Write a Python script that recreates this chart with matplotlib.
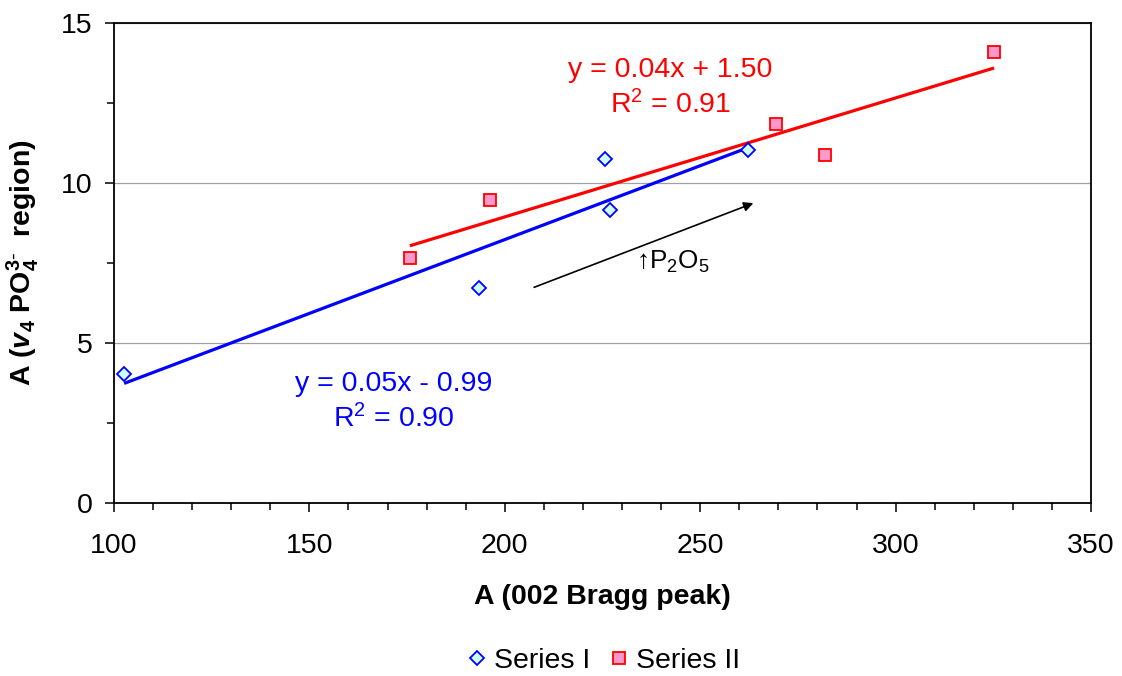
import numpy as np
import matplotlib
matplotlib.use("Agg")
import matplotlib.pyplot as plt
from matplotlib.ticker import MultipleLocator

plt.rcParams['font.family'] = ['Liberation Sans', 'DejaVu Sans']
plt.rcParams['mathtext.fontset'] = 'custom'
plt.rcParams['mathtext.rm'] = 'Liberation Sans'
plt.rcParams['mathtext.it'] = 'Liberation Sans:italic'
plt.rcParams['mathtext.bf'] = 'Liberation Sans:bold'
plt.rcParams['mathtext.bfit'] = 'Liberation Sans:bold:italic'

# Data
series1_x = [102.6, 193.5, 225.6, 227.0, 262.3]
series1_y = [4.03, 6.71, 10.74, 9.16, 11.03]
series2_x = [175.7, 196.2, 269.4, 282.0, 325.2]
series2_y = [7.66, 9.47, 11.84, 10.88, 14.09]
series_names = ["Series I", "Series II"]
eq1 = "y = 0.05x - 0.99\nR$^2$ = 0.90"
eq2 = "y = 0.04x + 1.50\nR$^2$ = 0.91"
arrow_start = (207.5, 6.74)
arrow_end = (263.6, 9.37)
x_ticks = [100, 150, 200, 250, 300, 350]
y_ticks = [0, 5, 10, 15]

FS = 20.5

fig = plt.figure(figsize=(11.22, 6.76), dpi=100)
ax = fig.add_axes([0.1016, 0.2559, 0.8708, 0.7101])

blue = '#0000FF'
red = '#FF0000'

# trendlines (least squares)
for xs, ys, c in [(series1_x, series1_y, blue), (series2_x, series2_y, red)]:
    xs_a = np.array(xs); ys_a = np.array(ys)
    m, b = np.polyfit(xs_a, ys_a, 1)
    xl = np.array([xs_a.min(), xs_a.max()])
    ax.plot(xl, m * xl + b, color=c, lw=2.3, zorder=2, solid_capstyle='butt')

ax.plot(series1_x, series1_y, ls='none', marker='D', ms=7, mfc='#CCFFFF',
        mec=blue, mew=1.3, label=series_names[0], zorder=3)
ax.plot(series2_x, series2_y, ls='none', marker='s', ms=8, mfc='#FF99CC',
        mec=red, mew=1.3, label=series_names[1], zorder=3)

ax.annotate('', xy=arrow_end, xytext=arrow_start,
            arrowprops=dict(arrowstyle='-|>', color='black', lw=1.2,
                            mutation_scale=14, shrinkA=0, shrinkB=0))
ax.text(233.6, 7.53, '\u2191P$_2$O$_5$', fontsize=18.8, va='center', ha='left')

ax.text(171.6, 3.16, eq1, color=blue, fontsize=FS, ha='center', va='center',
        multialignment='center', linespacing=1.3)
ax.text(242.3, 12.97, eq2, color=red, fontsize=FS, ha='center', va='center',
        multialignment='center', linespacing=1.3)

ax.set_xlim(100, 350)
ax.set_ylim(0, 15)
ax.set_xticks(x_ticks)
ax.set_yticks(y_ticks)
ax.xaxis.set_minor_locator(MultipleLocator(10))
ax.yaxis.set_minor_locator(MultipleLocator(2.5))
ax.tick_params(which='major', direction='out', length=6.5, width=1.1, labelsize=FS)
ax.tick_params(which='minor', direction='out', length=5, width=1.1)
ax.tick_params(axis='x', which='major', pad=15)
ax.tick_params(axis='y', which='major', pad=9)

ax.grid(axis='y', which='major', color='#a0a0a0', lw=0.9)
ax.set_axisbelow(True)
for s in ax.spines.values():
    s.set_color('black')
    s.set_linewidth(1.3)

ax.set_xlabel('A (002 Bragg peak)', fontsize=FS, fontweight='bold', labelpad=18)
ax.set_ylabel(r'$\mathbf{A\ (}\mathbfit{v}_\mathbf{4}\mathbf{\ PO}_\mathbf{4}^{\mathbf{3}\text{-}}\mathbf{\ \ region)}$',
              fontsize=FS, labelpad=14)

fig.legend(loc='center', bbox_to_anchor=(0.537, 0.022), ncol=2, frameon=False,
           fontsize=FS, handletextpad=0.15, columnspacing=0.55, handlelength=0.9)

fig.savefig('out.png', dpi=100)
